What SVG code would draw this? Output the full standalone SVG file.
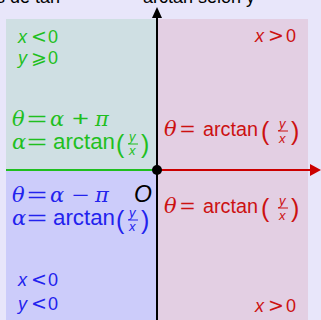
<svg xmlns="http://www.w3.org/2000/svg" width="321" height="320" viewBox="0 0 321 320">
<style>
text{font-family:"Liberation Sans","DejaVu Sans",sans-serif;font-size:18px}
.g{fill:#1fbf1f}.r{fill:#cc1111}.b{fill:#2222ee}.k{fill:#000}
.i{font-style:italic}
.rel{font-family:"DejaVu Sans",sans-serif;font-size:19px}
.m{font-family:"DejaVu Serif","Liberation Serif",serif;font-style:italic;font-size:21px}
.eq{font-family:"Liberation Sans",sans-serif;font-size:20px}
.at{font-size:22px}
.at2{font-size:20px}
.f{font-size:13px;font-style:italic}
.p{font-size:25px;font-family:"Liberation Sans",sans-serif}
.o{font-size:23px;font-style:italic}
</style>
<rect width="321" height="320" fill="#e8e6fa"/>
<text x="-4" y="3" class="k" font-size="18">s de tan</text>
<text x="143" y="3" class="k" font-size="18">arctan selon y</text>
<g id="q2"><rect x="6" y="19" width="151" height="151" fill="#cfdfe3"/>
<text class="g" y="43"><tspan class="i" x="18">x</tspan><tspan class="rel" x="31">&lt;</tspan><tspan x="48">0</tspan></text>
<text class="g" y="64"><tspan class="i" x="18">y</tspan><tspan class="rel" x="31">⩾</tspan><tspan x="48">0</tspan></text>
<text class="g m" x="12" y="126">θ</text><text class="g eq" x="27" y="126" textLength="20" lengthAdjust="spacingAndGlyphs">=</text><text class="g m" x="50" y="126">α</text><text class="g eq" x="72" y="126" textLength="17" lengthAdjust="spacingAndGlyphs">+</text><text class="g m" x="95" y="126">π</text>
<text class="g m" x="12" y="149">α</text><text class="g eq" x="27" y="149" textLength="20" lengthAdjust="spacingAndGlyphs">=</text><text class="g at" x="53" y="149" textLength="62" lengthAdjust="spacingAndGlyphs">arctan</text>
<text class="g p" x="116" y="153">(</text><text class="g p" x="141" y="153">)</text>
<text class="g f" x="129" y="141">y</text><rect x="128" y="143.5" width="10" height="1" fill="#1fbf1f"/><text class="g f" x="129" y="155">x</text>
</g>
<g id="q1"><rect x="157" y="19" width="151" height="151" fill="#e3cfe3"/>
<text class="r" y="42"><tspan class="i" x="255">x</tspan><tspan class="rel" x="268">&gt;</tspan><tspan x="286">0</tspan></text>
<text class="r m" x="164" y="136">θ</text><text class="r eq" x="180" y="136" textLength="15" lengthAdjust="spacingAndGlyphs">=</text><text class="r at2" x="203" y="136" textLength="55" lengthAdjust="spacingAndGlyphs">arctan</text>
<text class="r p" x="261" y="140">(</text><text class="r p" x="291" y="140">)</text>
<text class="r f" x="279" y="128">y</text><rect x="278" y="130.5" width="10" height="1" fill="#cc1111"/><text class="r f" x="279" y="143">x</text>
</g>
<g id="q4"><rect x="157" y="170" width="151" height="150" fill="#e3cfe3"/>
<text class="r m" x="164" y="213">θ</text><text class="r eq" x="180" y="213" textLength="15" lengthAdjust="spacingAndGlyphs">=</text><text class="r at2" x="203" y="213" textLength="55" lengthAdjust="spacingAndGlyphs">arctan</text>
<text class="r p" x="261" y="217">(</text><text class="r p" x="291" y="217">)</text>
<text class="r f" x="279" y="205">y</text><rect x="278" y="207.5" width="10" height="1" fill="#cc1111"/><text class="r f" x="279" y="220">x</text>
<text class="r" y="312"><tspan class="i" x="255">x</tspan><tspan class="rel" x="268">&gt;</tspan><tspan x="286">0</tspan></text>
</g>
<g id="q3"><rect x="6" y="170" width="151" height="150" fill="#ccccfa"/>
<text class="b m" x="12" y="202">θ</text><text class="b eq" x="27" y="202" textLength="20" lengthAdjust="spacingAndGlyphs">=</text><text class="b m" x="50" y="202">α</text><text class="b eq" x="72" y="202" textLength="17" lengthAdjust="spacingAndGlyphs">−</text><text class="b m" x="95" y="202">π</text>
<text class="b m" x="12" y="225">α</text><text class="b eq" x="27" y="225" textLength="20" lengthAdjust="spacingAndGlyphs">=</text><text class="b at" x="53" y="225" textLength="62" lengthAdjust="spacingAndGlyphs">arctan</text>
<text class="b p" x="116" y="229">(</text><text class="b p" x="141" y="229">)</text>
<text class="b f" x="129" y="217">y</text><rect x="128" y="219.5" width="10" height="1" fill="#2222ee"/><text class="b f" x="129" y="231">x</text>
<text class="b" y="286"><tspan class="i" x="18">x</tspan><tspan class="rel" x="31">&lt;</tspan><tspan x="48">0</tspan></text>
<text class="b" y="310"><tspan class="i" x="18">y</tspan><tspan class="rel" x="31">&lt;</tspan><tspan x="48">0</tspan></text>
<text class="k o" x="134" y="202">O</text>
</g>
<g id="axes">
<line x1="6" y1="170" x2="157" y2="170" stroke="#1fbf1f" stroke-width="2"/>
<line x1="157" y1="170" x2="311" y2="170" stroke="#cc0000" stroke-width="2"/>
<path d="M310,164 L321,170 L310,176 z" fill="#cc0000"/>
<line x1="157" y1="320" x2="157" y2="18" stroke="#000" stroke-width="2"/>
<path d="M152,18 L157,7 L162,18 z" fill="#000"/>
<circle cx="157" cy="170" r="5" fill="#000"/>
</g>
</svg>
